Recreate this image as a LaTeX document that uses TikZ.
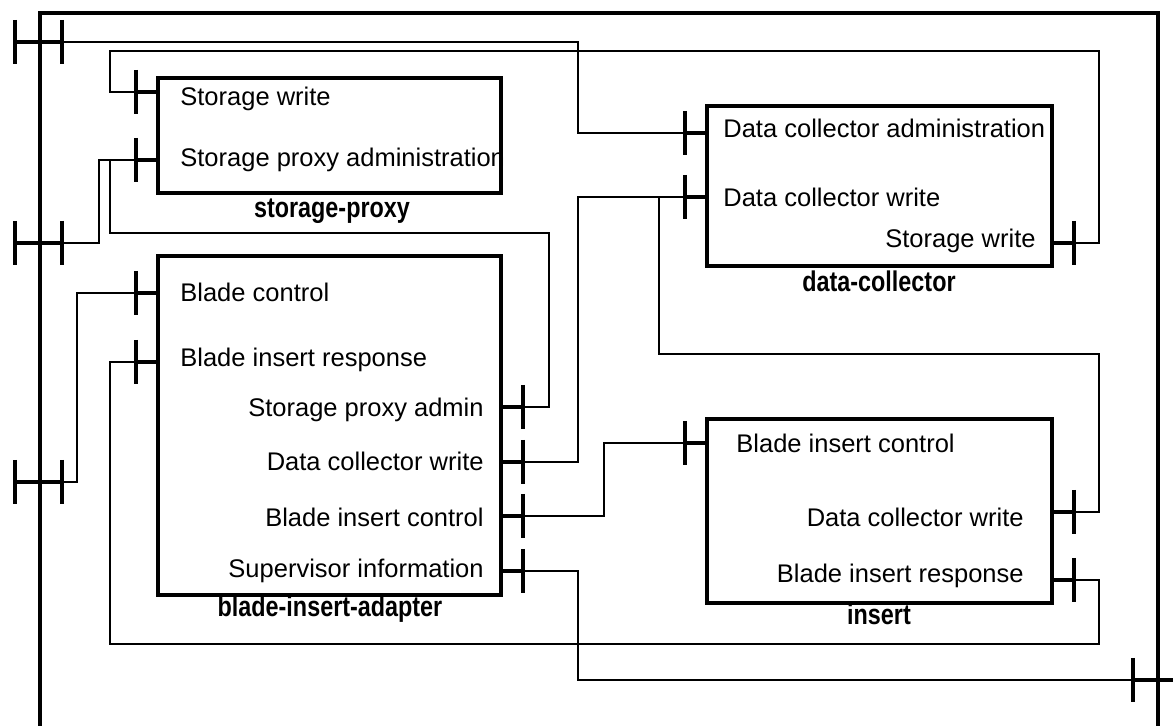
\documentclass[tikz,border=0pt]{standalone}
\usepackage{fontspec}
\setmainfont{Liberation Sans}
\usetikzlibrary{positioning}
\newcommand{\narrow}[1]{\scalebox{.82}[1]{#1}}
\tikzset{x=0.5pt, y=-0.5pt, % one unit is one pixel of the drawing, y grows downwards
block/.style={ % Sets the properties for each component
draw, line width=1.9pt, inner sep=0pt},
frame/.style={line width=1.9pt}, % outer component
wire/.style={line width=0.75pt}, % connections
portline/.style={line width=1.9pt},
lbl/.style={font=\fontsize{12.75}{15}\selectfont, inner sep=0pt},
title/.style={font=\fontsize{14.25}{17}\selectfont\bfseries, inner sep=0pt},
lport/.pic={\draw[portline] (0,0) -- (-22,0) (-22,-22) -- (-22,22);
  \coordinate (-end) at (-22,0);}, % port on the left side of a box
rport/.pic={\draw[portline] (0,0) -- (22,0) (22,-22) -- (22,22);
  \coordinate (-end) at (22,0);}, % port on the right side of a box
fport/.pic={\draw[portline] (-25,0) -- (22,0) (-25,-22) -- (-25,22) (22,-22) -- (22,22);
  \coordinate (-end) at (22,0);}, % port through the outer frame, inner end right
rfport/.pic={\draw[portline] (-25,0) -- (25,0) (-25,-22) -- (-25,22) (23,-22) -- (23,22);
  \coordinate (-end) at (-25,0);}} % port through the outer frame, inner end left

\begin{document}
\begin{tikzpicture}

    \useasboundingbox (0,0) rectangle (1173,726);
    \draw[frame] (40,726) -- (40,13) -- (1158,13) -- (1158,726);

    % components
    \node[block, minimum width=171.5pt, minimum height=57.5pt] (proxy) at (329.5,135.5) {};
    \node[block, minimum width=172.5pt, minimum height=80pt] (collector) at (879.5,186) {};
    \node[block, minimum width=171.5pt, minimum height=169.5pt] (adapter) at (329.5,425.5) {};
    \node[block, minimum width=172.5pt, minimum height=92pt] (insert) at (879.5,511) {};

    \node[title, anchor=base] (proxy-name) at (332,218) {\narrow{storage-proxy}};
    \node[title, anchor=base] (collector-name) at (879,292) {\narrow{data-collector}};
    \node[title, anchor=base] (adapter-name) at (330,617) {\narrow{blade-insert-adapter}};
    \node[title, anchor=base] (insert-name) at (879,625) {\narrow{insert}};

    % ports
    \pic (spw) at (158,92) {lport};
    \pic (spa) at (158,160) {lport};
    \pic (dca) at (707,133) {lport};
    \pic (dcw) at (707,197) {lport};
    \pic (dcs) at (1052,243) {rport};
    \pic (bc) at (158,293) {lport};
    \pic (bir) at (158,362) {lport};
    \pic (bsa) at (501,407) {rport};
    \pic (bdw) at (501,462) {rport};
    \pic (bic) at (501,516) {rport};
    \pic (bsi) at (501,571) {rport};
    \pic (ibc) at (707,443) {lport};
    \pic (idw) at (1052,512) {rport};
    \pic (ibr) at (1052,580) {rport};
    \pic (f1) at (40,42) {fport};
    \pic (f2) at (40,243) {fport};
    \pic (f3) at (40,482) {fport};
    \pic (f4) at (1158,680) {rfport};

    % port labels
    \node[lbl, anchor=base west] (spw-lbl) at (180,106) {Storage write};
    \node[lbl, anchor=base west] (spa-lbl) at (180,167) {Storage proxy administration};
    \node[lbl, anchor=base west] (dca-lbl) at (723,138) {Data collector administration};
    \node[lbl, anchor=base west] (dcw-lbl) at (723,207) {Data collector write};
    \node[lbl, anchor=base east] (dcs-lbl) at (1036,248) {Storage write};
    \node[lbl, anchor=base west] (bc-lbl) at (180,302) {Blade control};
    \node[lbl, anchor=base west] (bir-lbl) at (180,367) {Blade insert response};
    \node[lbl, anchor=base east] (bsa-lbl) at (484,417) {Storage proxy admin};
    \node[lbl, anchor=base east] (bdw-lbl) at (484,471) {Data collector write};
    \node[lbl, anchor=base east] (bic-lbl) at (484,527) {Blade insert control};
    \node[lbl, anchor=base east] (bsi-lbl) at (484,578) {Supervisor information};
    \node[lbl, anchor=base west] (ibc-lbl) at (736,453) {Blade insert control};
    \node[lbl, anchor=base east] (idw-lbl) at (1024,527) {Data collector write};
    \node[lbl, anchor=base east] (ibr-lbl) at (1024,583) {Blade insert response};

    % connections
    \draw[wire] (f1-end) -- (578,42) |- (dca-end);
    \draw[wire] (spw-end) -- (110,92) |- (1099,51) |- (dcs-end);
    \draw[wire] (spa-end) -- (99,160) |- (f2-end);
    \draw[wire] (spa-end) -- (110,160) |- (549,233) |- (bsa-end);
    \draw[wire] (bc-end) -- (77,293) |- (f3-end);
    \draw[wire] (bir-end) -- (110,362) |- (1099,644) |- (ibr-end);
    \draw[wire] (bdw-end) -- (578,462) |- (dcw-end);
    \draw[wire] (dcw-end) -- (659,197) |- (1099,354) |- (idw-end);
    \draw[wire] (bic-end) -- (604,516) |- (ibc-end);
    \draw[wire] (bsi-end) -- (578,571) |- (f4-end);

\end{tikzpicture}
\end{document}
